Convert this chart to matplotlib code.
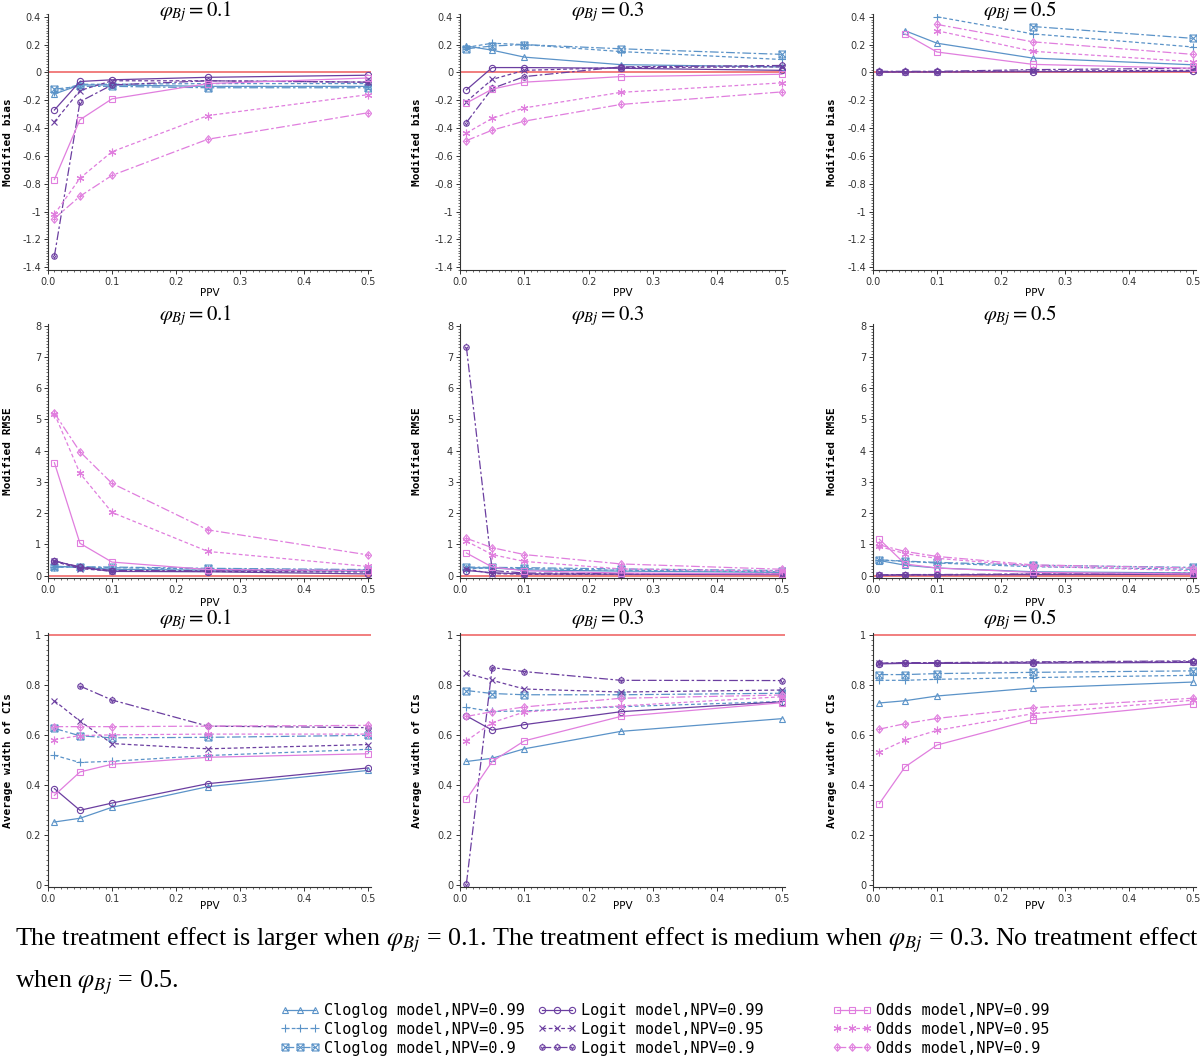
import numpy as np
import matplotlib
matplotlib.use("Agg")
import matplotlib.pyplot as plt
from matplotlib.path import Path
from matplotlib.ticker import MultipleLocator, FuncFormatter

plt.rcParams['mathtext.fontset'] = 'stix'

nan = np.nan
ppv = [0.01, 0.05, 0.1, 0.25, 0.5]
phi_labels = ["0.1", "0.3", "0.5"]
model_names = ["Cloglog", "Logit", "Odds"]
npv_labels = ["0.99", "0.95", "0.9"]
row_ylabels = ["Modified bias", "Modified RMSE", "Average width of CIs"]
ref_values = [0.0, 0.0, 1.0]

# ---- Modified bias ----
bias_phi1_cloglog = [[-0.155, -0.09, -0.09, -0.10, -0.10],
                     [-0.14, -0.085, -0.085, -0.08, -0.08],
                     [-0.12, -0.10, -0.10, -0.11, -0.11]]
bias_phi1_logit = [[-0.27, -0.065, -0.053, -0.035, -0.02],
                   [-0.355, -0.13, -0.06, -0.06, -0.07],
                   [-1.32, -0.21, -0.09, -0.06, -0.07]]
bias_phi1_odds = [[-0.77, -0.34, -0.19, -0.08, -0.04],
                  [-1.02, -0.76, -0.57, -0.31, -0.16],
                  [-1.05, -0.89, -0.74, -0.48, -0.29]]

bias_phi3_cloglog = [[0.19, 0.16, 0.11, 0.056, 0.04],
                     [0.18, 0.21, 0.20, 0.15, 0.093],
                     [0.17, 0.19, 0.20, 0.17, 0.13]]
bias_phi3_logit = [[-0.125, 0.035, 0.035, 0.03, 0.015],
                   [-0.21, -0.05, 0.015, 0.035, 0.04],
                   [-0.36, -0.115, -0.03, 0.04, 0.05]]
bias_phi3_odds = [[-0.22, -0.12, -0.07, -0.03, -0.013],
                  [-0.435, -0.33, -0.255, -0.143, -0.075],
                  [-0.49, -0.415, -0.35, -0.23, -0.14]]

bias_phi5_cloglog = [[nan, 0.30, 0.21, 0.103, 0.055],
                     [nan, nan, 0.40, 0.277, 0.183],
                     [nan, nan, nan, 0.33, 0.245]]
bias_phi5_logit = [[0.002, 0.003, 0.003, 0.005, 0.008],
                   [0.004, 0.005, 0.005, 0.010, 0.015],
                   [0.008, 0.008, 0.008, 0.020, 0.030]]
bias_phi5_odds = [[nan, 0.277, 0.147, 0.058, 0.03],
                  [nan, nan, 0.30, 0.152, 0.077],
                  [nan, nan, 0.345, 0.22, 0.13]]

# ---- Modified RMSE ----
rmse_phi1_cloglog = [[0.30, 0.26, 0.20, 0.17, 0.14],
                     [0.27, 0.27, 0.25, 0.21, 0.17],
                     [0.26, 0.28, 0.27, 0.23, 0.19]]
rmse_phi1_logit = [[0.47, 0.26, 0.13, 0.12, 0.05],
                   [0.45, 0.22, 0.14, 0.13, 0.11],
                   [0.46, 0.28, 0.16, 0.15, 0.16]]
rmse_phi1_odds = [[3.61, 1.03, 0.43, 0.19, 0.16],
                  [5.18, 3.27, 2.02, 0.77, 0.29],
                  [5.20, 3.96, 2.95, 1.46, 0.66]]

rmse_phi3_cloglog = [[0.25, 0.24, 0.18, 0.14, 0.10],
                     [0.22, 0.24, 0.22, 0.17, 0.12],
                     [0.27, 0.26, 0.25, 0.21, 0.16]]
rmse_phi3_logit = [[0.16, 0.09, 0.05, 0.04, 0.03],
                   [0.21, 0.06, 0.04, 0.04, 0.04],
                   [7.30, 0.16, 0.08, 0.06, 0.05]]
rmse_phi3_odds = [[0.72, 0.27, 0.15, 0.08, 0.05],
                  [1.10, 0.67, 0.45, 0.21, 0.14],
                  [1.19, 0.89, 0.67, 0.37, 0.20]]

rmse_phi5_cloglog = [[0.48, 0.33, 0.24, 0.12, 0.08],
                     [0.50, 0.45, 0.40, 0.28, 0.20],
                     [0.50, 0.46, 0.42, 0.33, 0.26]]
rmse_phi5_logit = [[0.01, 0.02, 0.02, 0.03, 0.04],
                   [0.01, 0.02, 0.02, 0.04, 0.05],
                   [0.02, 0.03, 0.03, 0.05, 0.07]]
rmse_phi5_odds = [[1.16, 0.37, 0.24, 0.10, 0.05],
                  [0.93, 0.70, 0.55, 0.30, 0.15],
                  [0.98, 0.77, 0.61, 0.34, 0.24]]

# ---- Average width of CIs ----
ciw_phi1_cloglog = [[0.251, 0.266, 0.31, 0.393, 0.458],
                    [0.519, 0.49, 0.495, 0.518, 0.543],
                    [0.627, 0.597, 0.589, 0.591, 0.599]]
ciw_phi1_logit = [[0.385, 0.298, 0.327, 0.405, 0.468],
                  [0.738, 0.656, 0.566, 0.545, 0.562],
                  [nan, 0.797, 0.741, 0.636, 0.63]]
ciw_phi1_odds = [[0.358, 0.452, 0.483, 0.511, 0.525],
                 [0.582, 0.598, 0.601, 0.604, 0.604],
                 [0.634, 0.634, 0.634, 0.636, 0.639]]

ciw_phi3_cloglog = [[0.494, 0.507, 0.545, 0.615, 0.666],
                    [0.711, 0.695, 0.697, 0.714, 0.735],
                    [0.779, 0.767, 0.762, 0.762, 0.768]]
ciw_phi3_logit = [[0.677, 0.62, 0.642, 0.694, 0.734],
                  [0.848, 0.82, 0.785, 0.773, 0.781],
                  [0.004, 0.871, 0.855, 0.82, 0.819]]
ciw_phi3_odds = [[0.342, 0.494, 0.577, 0.675, 0.73],
                 [0.577, 0.65, 0.693, 0.717, 0.754],
                 [0.675, 0.694, 0.713, 0.748, 0.761]]

ciw_phi5_cloglog = [[0.729, 0.738, 0.757, 0.789, 0.813],
                    [0.82, 0.82, 0.824, 0.831, 0.84],
                    [0.843, 0.843, 0.847, 0.852, 0.858]]
ciw_phi5_logit = [[0.886, 0.888, 0.888, 0.889, 0.892],
                  [0.888, 0.89, 0.89, 0.892, 0.895],
                  [0.889, 0.891, 0.891, 0.894, 0.898]]
ciw_phi5_odds = [[0.325, 0.472, 0.56, 0.662, 0.725],
                 [0.532, 0.58, 0.619, 0.686, 0.74],
                 [0.624, 0.646, 0.667, 0.71, 0.748]]

panels = [
    [(bias_phi1_cloglog, bias_phi1_logit, bias_phi1_odds),
     (bias_phi3_cloglog, bias_phi3_logit, bias_phi3_odds),
     (bias_phi5_cloglog, bias_phi5_logit, bias_phi5_odds)],
    [(rmse_phi1_cloglog, rmse_phi1_logit, rmse_phi1_odds),
     (rmse_phi3_cloglog, rmse_phi3_logit, rmse_phi3_odds),
     (rmse_phi5_cloglog, rmse_phi5_logit, rmse_phi5_odds)],
    [(ciw_phi1_cloglog, ciw_phi1_logit, ciw_phi1_odds),
     (ciw_phi3_cloglog, ciw_phi3_logit, ciw_phi3_odds),
     (ciw_phi5_cloglog, ciw_phi5_logit, ciw_phi5_odds)],
]

# ---- styles ----
M, L = Path.MOVETO, Path.LINETO
sq = Path([(-1, -1), (1, -1), (1, 1), (-1, 1), (-1, -1)], [M, L, L, L, L])
xx = Path([(-1, -1), (1, 1), (-1, 1), (1, -1)], [M, L, M, L])
box_x = Path.make_compound_path(sq, xx)
circ = Path.unit_circle()
vin = Path([(-0.6, 0.3), (0, -0.6), (0.6, 0.3), (0, 0.9), (0, 1.4)], [M, L, L, M, L])
circ_v = Path.make_compound_path(circ, vin)
dia = Path([(0, -1.2), (1, 0), (0, 1.2), (-1, 0), (0, -1.2)], [M, L, L, L, L])
pls = Path([(-0.6, 0), (0.6, 0), (0, -0.7), (0, 0.7)], [M, L, M, L])
dia_p = Path.make_compound_path(dia, pls)

colors = ["#5b93c8", "#6b3ea0", "#e07ede"]
markers = [['^', '+', box_x], ['o', 'x', circ_v], ['s', (6, 2, 0), dia_p]]
msizes = [[4.5, 6, 5], [4.5, 4.5, 5.5], [4.5, 5.5, 5.5]]
lstyles = ['-', (0, (3, 2)), (0, (7, 2, 2, 2))]

ylims = [(-1.42, 0.42), (-0.08, 8.05), (-0.01, 1.01)]
ymaj = [0.2, 1, 0.2]
ymin = [0.02, 0.1, 0.02]

W, H = 1200, 1058
fig = plt.figure(figsize=(W / 100, H / 100), dpi=100)

col_px = [(48, 371), (460, 785), (873, 1196)]
row_px = [(14, 270), (324, 578), (633, 887)]
title_y = [12, 316, 620]
xlab_y = [293, 603, 906]
ylab_x = [8, 417, 832]

def yfmt(v, pos):
    s = '%g' % round(v, 6)
    return '0' if s in ('-0', '0') else s

legend_handles = [[None] * 3 for _ in range(3)]

for r in range(3):
    for c in range(3):
        x0, x1 = col_px[c]
        y0, y1 = row_px[r]
        ax = fig.add_axes([x0 / W, 1 - y1 / H, (x1 - x0) / W, (y1 - y0) / H])
        ax.axhline(ref_values[r], color="#f07474", lw=1.3, zorder=1)
        for m in range(3):
            for k in range(3):
                h, = ax.plot(ppv, panels[r][c][m][k], color=colors[m],
                             linestyle=lstyles[k], lw=0.9,
                             marker=markers[m][k], ms=msizes[m][k],
                             mfc='none', mec=colors[m], mew=0.8,
                             label=f"{model_names[m]} model,NPV={npv_labels[k]}",
                             zorder=2)
                legend_handles[m][k] = h
        ax.set_xlim(0, 0.505)
        ax.set_ylim(*ylims[r])
        for s in ['top', 'right']:
            ax.spines[s].set_visible(False)
        ax.spines['left'].set_color('#333333')
        ax.spines['bottom'].set_color('#333333')
        ax.xaxis.set_major_locator(MultipleLocator(0.1))
        ax.xaxis.set_minor_locator(MultipleLocator(0.01))
        ax.yaxis.set_major_locator(MultipleLocator(ymaj[r]))
        ax.yaxis.set_minor_locator(MultipleLocator(ymin[r]))
        ax.xaxis.set_major_formatter(FuncFormatter(lambda v, p: '%.1f' % v))
        ax.yaxis.set_major_formatter(FuncFormatter(yfmt))
        ax.tick_params(which='major', length=3, width=0.7, labelsize=7,
                       colors='#333333', pad=2)
        ax.tick_params(which='minor', length=1.5, width=0.5, colors='#333333')
        cx = (x0 + x1) / 2
        fig.text(cx / W - 0.012, 1 - title_y[r] / H,
                 r"$\varphi_{Bj} = 0.%s$" % phi_labels[c][-1],
                 ha='center', va='center', fontsize=15)
        fig.text(cx / W, 1 - xlab_y[r] / H, "PPV", ha='center', va='center',
                 fontsize=7.5)
        fig.text(ylab_x[c] / W, 1 - ((y0 + y1) / 2) / H, row_ylabels[r],
                 rotation=90, ha='center', va='center', fontsize=8,
                 family='DejaVu Sans Mono', fontweight='bold')

cap1 = (r"The treatment effect is larger when $\varphi_{Bj}$ = 0.1. The treatment effect is medium "
        r"when $\varphi_{Bj}$ = 0.3. No treatment effect")
cap2 = r"when $\varphi_{Bj}$ = 0.5."
fig.text(15 / W, 1 - 940 / H, cap1, ha='left', va='center', fontsize=18.7,
         family='Liberation Serif')
fig.text(15 / W, 1 - 983 / H, cap2, ha='left', va='center', fontsize=18.7,
         family='Liberation Serif')

leg_x = [280, 537, 832]
for m in range(3):
    leg = fig.legend(handles=legend_handles[m], loc='upper left',
                     bbox_to_anchor=(leg_x[m] / W, 1 - 1003 / H),
                     frameon=False, numpoints=3, handlelength=2.6,
                     handletextpad=0.3, labelspacing=0.25,
                     prop={'family': 'DejaVu Sans Mono', 'size': 11},
                     borderaxespad=0, borderpad=0)

fig.savefig("out.png", dpi=100)
